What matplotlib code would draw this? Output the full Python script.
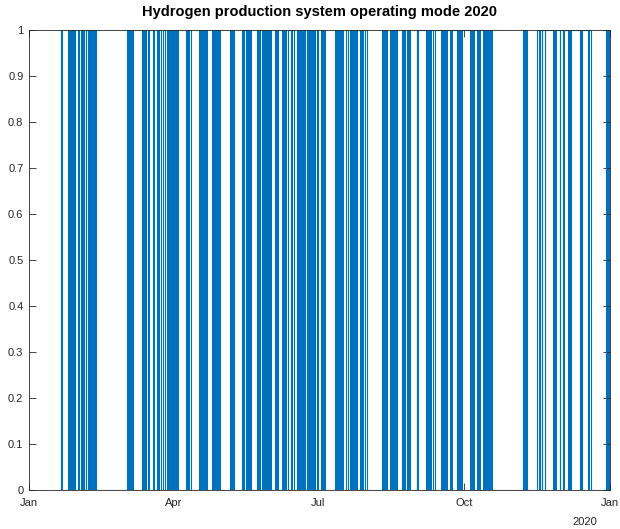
import datetime as dt
import matplotlib
matplotlib.use("Agg")
import matplotlib.pyplot as plt

plt.rcParams['font.family'] = ['Liberation Sans', 'DejaVu Sans']

# ---- data (day of year 2020, fractional) ----
data_start_day = 19.5
data_end_day = 366.0

# periods where the system is on (step signal = 1)
on_start = [20.0, 24.4, 31.1, 32.8, 35.9, 37.4, 61.5, 71.0, 72.0, 75.2, 77.9,
            80.4, 82.1, 84.6, 87.1, 89.5, 90.9, 98.9, 101.0, 107.3, 115.1,
            126.6, 134.4, 135.6, 137.1, 143.4, 147.0, 155.0, 159.2, 163.0,
            165.9, 168.6, 174.9, 181.2, 183.9, 192.8, 199.7, 202.2, 208.5,
            211.7, 222.2, 227.4, 234.8, 237.9, 244.2, 245.2, 255.8, 311.0,
            320.2, 321.6, 323.3, 325.3, 334.8, 336.8, 340.0, 341.4, 347.5,
            348.3, 352.6, 363.5]
on_end = [21.0, 29.0, 31.7, 34.8, 37.0, 42.2, 65.3, 71.6, 73.7, 75.8, 79.0,
          81.5, 83.2, 85.7, 88.8, 89.9, 94.1, 100.4, 101.9, 112.3, 120.3,
          129.3, 135.0, 136.5, 139.9, 145.5, 152.4, 157.0, 161.7, 165.0,
          167.1, 173.9, 180.2, 182.2, 186.5, 198.0, 200.8, 206.4, 210.6,
          212.7, 225.3, 232.0, 236.9, 240.0, 244.5, 254.7, 291.5, 313.5,
          321.3, 323.0, 325.0, 334.5, 336.5, 339.7, 341.1, 347.1, 348.0,
          352.3, 353.8, 366.0]

# dense operating blocks (many rapid switches -> solid blue)
dense_start = [24.4, 32.8, 37.4, 61.5, 72.0, 87.1, 90.9, 98.9, 107.3, 115.1,
               126.6, 137.1, 143.4, 147.0, 155.0, 159.2, 168.6, 174.9, 183.9,
               192.8, 202.2, 208.5, 222.2, 227.4, 234.8, 237.9, 249.9, 259.5,
               265.2, 269.4, 277.8, 282.0, 285.8, 311.0, 329.9, 363.5]
dense_end = [29.0, 34.8, 42.2, 65.3, 73.7, 88.8, 94.1, 100.4, 112.3, 120.3,
             129.3, 139.9, 145.5, 152.4, 157.0, 161.7, 173.9, 180.2, 186.5,
             198.0, 206.4, 210.6, 225.3, 232.0, 236.9, 240.0, 253.7, 264.1,
             267.3, 273.6, 281.0, 284.7, 291.5, 313.5, 332.4, 366.0]

tick_labels = ['Jan', 'Apr', 'Jul', 'Oct', 'Jan']
tick_dates = [dt.datetime(2020, 1, 1), dt.datetime(2020, 4, 1), dt.datetime(2020, 7, 1),
              dt.datetime(2020, 10, 1), dt.datetime(2021, 1, 1)]

# ---- build step signal ----
base = dt.datetime(2020, 1, 1)
def D(d):
    return base + dt.timedelta(days=d)

xs = [data_start_day]
ys = [0]
for s, e in zip(on_start, on_end):
    xs += [s, s, e, e]
    ys += [0, 1, 1, 0]
xs_d = [D(x) for x in xs]

color = '#0072BD'
fig = plt.figure(figsize=(6.2, 5.29), dpi=100)
ax = fig.add_axes([29/620, 1-490/529, (610-29)/620, (490-30)/529])

for s, e in zip(dense_start, dense_end):
    ax.fill_between([D(s), D(e)], 0, 1, color=color, linewidth=0)
ax.plot(xs_d, ys, color=color, linewidth=0.8)

ax.set_xlim(tick_dates[0], tick_dates[-1])
ax.set_ylim(0, 1)
ax.set_xticks(tick_dates)
ax.set_xticklabels(tick_labels)
ax.set_yticks([i/10 for i in range(11)])
ax.set_yticklabels(['0'] + ['%.1f' % (i/10) for i in range(1, 10)] + ['1'])
ax.tick_params(direction='in', top=True, right=True, length=5, width=0.6,
               labelsize=8, colors='#262626')
ax.tick_params(axis='x', pad=6)
ax.tick_params(axis='y', pad=4)
for sp in ax.spines.values():
    sp.set_color('#262626')
    sp.set_linewidth(0.6)
ax.set_title('Hydrogen production system operating mode 2020', fontsize=10.5,
             fontweight='bold', color='black', pad=10)
ax.text(0.957, -0.07, '2020', transform=ax.transAxes, ha='center', va='center',
        fontsize=8, color='#262626')

fig.savefig('out.png', dpi=100)
